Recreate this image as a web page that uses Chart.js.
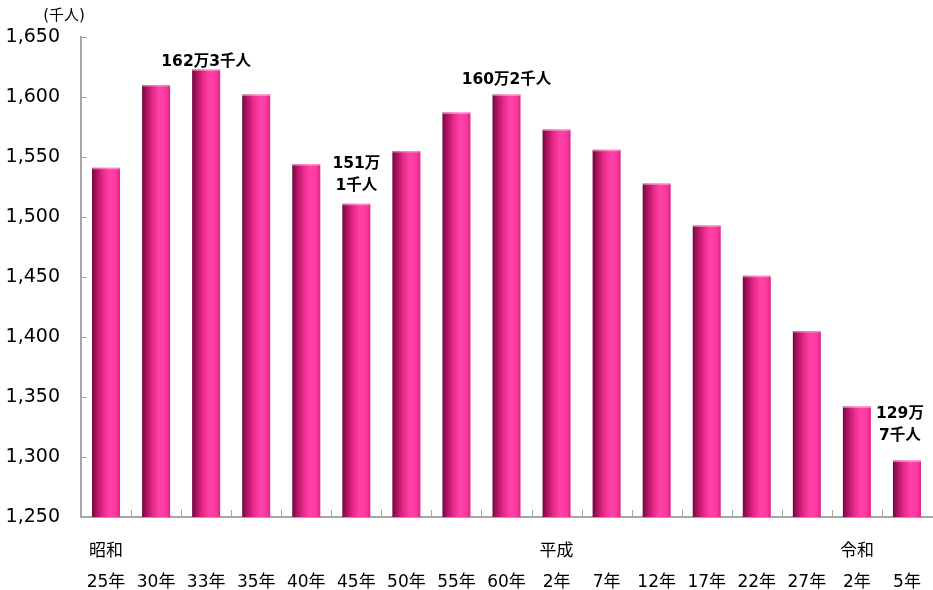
<!DOCTYPE html>
<html>
<head>
<meta charset="utf-8">
<script src="https://cdn.jsdelivr.net/npm/chart.js@4.4.1/dist/chart.umd.min.js"></script>
<style>
  html, body { margin: 0; padding: 0; background: #fff; }
  #wrap { width: 933px; height: 590px; position: relative; }
</style>
</head>
<body>
<div id="wrap"><canvas id="chartPopulation"></canvas></div>
<script>
const eraLabels = ['昭和', '', '', '', '', '', '', '', '', '平成', '', '', '', '', '', '令和', ''];
const yearLabels = ['25年', '30年', '33年', '35年', '40年', '45年', '50年', '55年', '60年', '2年', '7年', '12年', '17年', '22年', '27年', '2年', '5年'];
const population = [1541, 1610, 1623, 1602, 1544, 1511, 1555, 1587, 1602, 1573, 1556, 1528, 1493, 1451, 1405, 1342, 1297];
const callouts = [
    { index: 2, lines: ['162万3千人'], gap: 7, dx: 0 },
    { index: 5, lines: ['151万', '1千人'], gap: 18, dx: 0 },
    { index: 8, lines: ['160万2千人'], gap: 15, dx: 0 },
    { index: 16, lines: ['129万', '7千人'], gap: 25, dx: -7 }
];
const yMin = 1250;
const yMax = 1650;
const yStep = 50;

const fontFamily = '"DejaVu Sans", Verdana, "Noto Sans CJK JP", sans-serif';
const barPct = 0.56;

function barFill(c) {
    const chart = c.chart;
    const x = chart.scales && chart.scales.x;
    if (!x || c.dataIndex == null || !x.width) return '#f0308f';
    const cx = x.getPixelForValue(c.dataIndex);
    const w = x.width / yearLabels.length * barPct;
    const g = chart.ctx.createLinearGradient(cx - w / 2, 0, cx + w / 2, 0);
    g.addColorStop(0, '#6e0a3c');
    g.addColorStop(0.15, '#a8125f');
    g.addColorStop(0.4, '#ea2a8a');
    g.addColorStop(0.62, '#ff42a8');
    g.addColorStop(0.85, '#fb3aa0');
    g.addColorStop(1, '#de2484');
    return g;
}

const decorations = {
    id: 'decorations',
    afterDatasetsDraw(chart) {
        const { ctx, chartArea } = chart;
        const x = chart.scales.x;
        const y = chart.scales.y;
        const meta = chart.getDatasetMeta(0);
        ctx.save();

        // soft cap on top of each bar
        meta.data.forEach(bar => {
            ctx.fillStyle = 'rgba(255, 190, 225, 0.55)';
            ctx.fillRect(bar.x - bar.width / 2, bar.y, bar.width, 1.5);
        });

        // inward ticks
        ctx.strokeStyle = '#a6a6a6';
        ctx.lineWidth = 1;
        y.ticks.forEach(t => {
            const py = Math.round(y.getPixelForValue(t.value)) + 0.5;
            ctx.beginPath();
            ctx.moveTo(chartArea.left, py);
            ctx.lineTo(chartArea.left + 6, py);
            ctx.stroke();
        });
        const step = x.width / yearLabels.length;
        for (let i = 1; i < yearLabels.length; i++) {
            const px = Math.round(chartArea.left + step * i) + 0.5;
            ctx.beginPath();
            ctx.moveTo(px, chartArea.bottom);
            ctx.lineTo(px, chartArea.bottom - 7);
            ctx.stroke();
        }

        // unit label
        ctx.fillStyle = '#000';
        ctx.font = '15px ' + fontFamily;
        ctx.textAlign = 'center';
        ctx.textBaseline = 'middle';
        ctx.fillText('(千人)', 64, 16);

        // callouts
        ctx.font = 'bold 15.5px ' + fontFamily;
        callouts.forEach(c => {
            const bar = meta.data[c.index];
            const n = c.lines.length;
            c.lines.forEach((line, i) => {
                ctx.fillText(line, bar.x + c.dx, bar.y - c.gap - (n - 1 - i) * 22);
            });
        });
        ctx.restore();
    }
};

new Chart(document.getElementById('chartPopulation'), {
    type: 'bar',
    data: {
        labels: yearLabels.map((yr, i) => [eraLabels[i], yr]),
        datasets: [{
            data: population,
            backgroundColor: barFill,
            borderWidth: 0,
            barPercentage: barPct,
            categoryPercentage: 1.0
        }]
    },
    options: {
        responsive: true,
        maintainAspectRatio: false,
        animation: false,
        locale: 'en-US',
        layout: {
            padding: { top: 37, right: 1, bottom: 0, left: 0 }
        },
        plugins: {
            legend: { display: false },
            tooltip: { enabled: false }
        },
        scales: {
            x: {
                grid: { display: false },
                border: { display: true, color: '#a6a6a6', width: 2 },
                ticks: {
                    color: '#000',
                    font: { family: fontFamily, size: 17, lineHeight: 1.82 },
                    padding: 11,
                    maxRotation: 0,
                    autoSkip: false
                },
                afterFit(scale) { scale.height = 73; }
            },
            y: {
                min: yMin,
                max: yMax,
                grid: { display: false },
                border: { display: true, color: '#a6a6a6', width: 2 },
                ticks: {
                    stepSize: yStep,
                    color: '#000',
                    padding: 13,
                    font: { family: fontFamily, size: 19 }
                },
                afterFit(scale) { scale.width = 81; }
            }
        }
    },
    plugins: [decorations]
});
</script>
</body>
</html>
